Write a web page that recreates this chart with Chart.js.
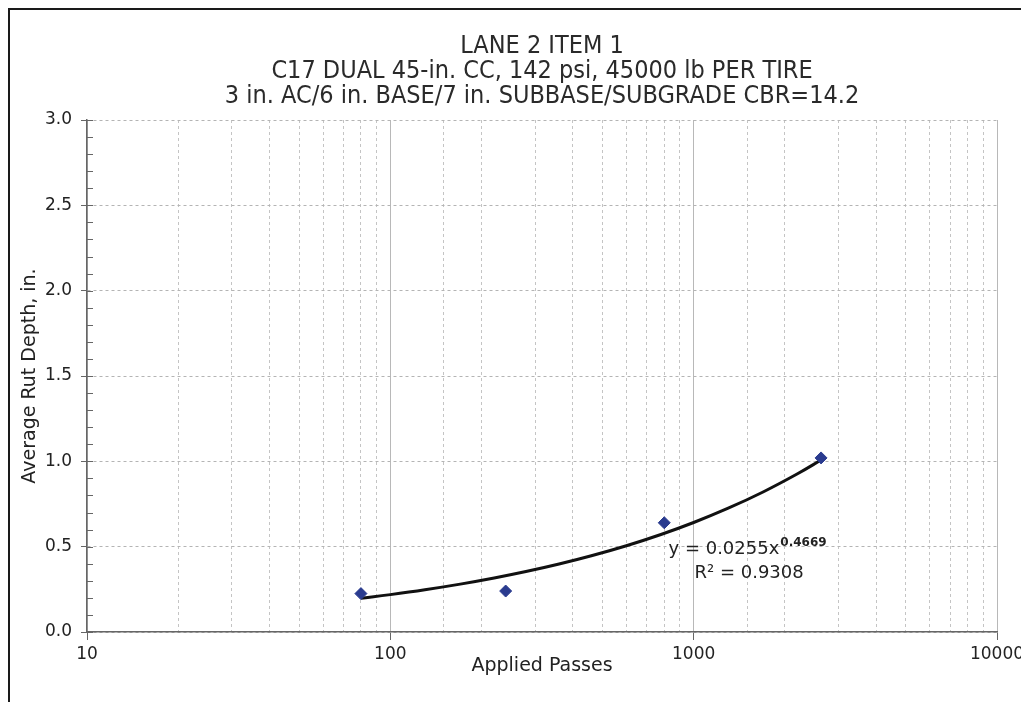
<!DOCTYPE html>
<html lang="en">
<head>
  <meta charset="UTF-8">
  <title>Lane 2 Item 1 - Rut Depth</title>
  <!-- Chart.js -->
  <script src="https://cdn.jsdelivr.net/npm/chart.js"></script>
  <style>
    body { margin: 0; background: #fff; }
    #wrap { position: relative; width: 1021px; height: 702px; }
    .frame-top { position: absolute; left: 8px; top: 8px; width: 1013px; height: 2px; background: #1a1a1a; }
    .frame-left { position: absolute; left: 8px; top: 8px; width: 2px; height: 694px; background: #1a1a1a; }
  </style>
</head>

<body>
  <div id="wrap">
    <canvas id="rutChart" width="1021" height="702"></canvas>
    <div class="frame-top"></div>
    <div class="frame-left"></div>
  </div>

  <script>
    // measured points
    const passes = [80, 240, 800, 2630];
    const rutDepth = [0.225, 0.24, 0.64, 1.02];

    // power trendline shown on the chart: y = a * x^b
    const trendCoef = [0.0255, 0.4669];
    const trendR2 = 0.9308;
    const trendPasses = [80, 100, 130, 170, 220, 280, 360, 460, 600, 780, 1000, 1300, 1700, 2200, 2630];

    const titleLines = [
      'LANE 2 ITEM 1',
      'C17 DUAL 45-in. CC, 142 psi, 45000 lb PER TIRE',
      '3 in. AC/6 in. BASE/7 in. SUBBASE/SUBGRADE CBR=14.2'
    ];
    const xTickLabels = [10, 100, 1000, 10000];
    const yMinorStep = 0.1;

    const trendData = trendPasses.map(x => ({ x: x, y: trendCoef[0] * Math.pow(x, trendCoef[1]) }));
    const isDecade = v => xTickLabels.includes(Math.round(v));

    // small inside tick marks on y axis + equation label
    const extras = {
      id: 'extras',
      afterDraw(chart) {
        const ctx = chart.ctx;
        const xs = chart.scales.x, ys = chart.scales.y;
        ctx.save();
        ctx.strokeStyle = '#666';
        ctx.lineWidth = 1;
        for (let v = 0; v <= 3.0001; v += yMinorStep) {
          const py = Math.round(ys.getPixelForValue(v)) + 0.5;
          ctx.beginPath();
          ctx.moveTo(xs.left, py);
          ctx.lineTo(xs.left + 6, py);
          ctx.stroke();
        }

        // trendline equation
        const cx = xs.getPixelForValue(1500);
        const cy = ys.getPixelForValue(0.5) + 3;
        ctx.fillStyle = '#222';
        ctx.textBaseline = 'middle';
        const base = 'y = ' + trendCoef[0] + 'x';
        const sup = String(trendCoef[1]);
        ctx.font = '18px "DejaVu Sans"';
        const wb = ctx.measureText(base).width;
        ctx.font = 'bold 12px "DejaVu Sans"';
        const ws = ctx.measureText(sup).width;
        const x0 = cx - (wb + ws) / 2;
        ctx.font = '18px "DejaVu Sans"';
        ctx.textAlign = 'left';
        ctx.fillText(base, x0, cy);
        ctx.font = 'bold 12px "DejaVu Sans"';
        ctx.fillText(sup, x0 + wb + 1, cy - 7);
        ctx.font = '18px "DejaVu Sans"';
        ctx.textAlign = 'center';
        ctx.fillText('R\u00b2 = ' + trendR2, cx + 2, cy + 24);
        ctx.restore();
      }
    };

    new Chart(document.getElementById('rutChart'), {
      type: 'scatter',
      data: {
        datasets: [
          {
            label: 'Rut depth',
            data: passes.map((p, i) => ({ x: p, y: rutDepth[i] })),
            pointStyle: 'rectRot',
            pointRadius: 6,
            pointHoverRadius: 6,
            backgroundColor: '#2a3b8f',
            borderColor: '#2a3b8f',
            borderWidth: 1,
            order: 1
          },
          {
            label: 'Power trend',
            type: 'line',
            data: trendData,
            borderColor: '#111',
            borderWidth: 3,
            pointRadius: 0,
            tension: 0.4,
            fill: false,
            order: 2
          }
        ]
      },
      options: {
        responsive: false,
        animation: false,
        layout: { padding: { left: 0, right: 24, top: 0, bottom: 0 } },
        plugins: {
          legend: { display: false },
          tooltip: { enabled: false },
          title: {
            display: true,
            fullSize: false,
            text: titleLines,
            color: '#2a2a2a',
            font: { family: '"Liberation Sans Narrow", "DejaVu Sans Condensed", sans-serif', size: 25, weight: 'normal', lineHeight: 25 / 25 },
            padding: { top: 34, bottom: 11 }
          }
        },
        scales: {
          x: {
            type: 'logarithmic',
            min: 10,
            max: 10000,
            title: {
              display: true,
              text: 'Applied Passes',
              color: '#222',
              font: { family: '"DejaVu Sans"', size: 19 },
              padding: { top: 0, bottom: 25 }
            },
            ticks: {
              autoSkip: false,
              maxRotation: 0,
              padding: 4,
              color: '#222',
              font: { family: '"DejaVu Sans"', size: 17 },
              callback: v => isDecade(v) ? String(Math.round(v)) : ''
            },
            grid: {
              color: c => (c.tick && isDecade(c.tick.value)) ? '#b8b8b8' : '#c4c4c4',
              lineWidth: 1,
              tickLength: 8,
              tickColor: c => (c.tick && isDecade(c.tick.value)) ? '#666' : 'rgba(0,0,0,0)'
            },
            border: {
              display: true,
              color: '#666',
              width: 1.5,
              dash: c => (c.tick && isDecade(c.tick.value)) ? [] : [3, 3]
            },
            afterFit: s => { s.height = 70; s.paddingLeft = 0; s.paddingRight = 0; }
          },
          y: {
            min: 0,
            max: 3,
            title: {
              display: true,
              text: 'Average Rut Depth, in.',
              color: '#222',
              font: { family: '"DejaVu Sans"', size: 19 },
              padding: { top: 19, bottom: 0 }
            },
            ticks: {
              stepSize: 0.5,
              padding: 9,
              color: '#222',
              font: { family: '"DejaVu Sans"', size: 17 },
              callback: v => Number(v).toFixed(1)
            },
            grid: {
              color: '#b4b4b4',
              lineWidth: 1,
              tickLength: 6,
              tickColor: '#666'
            },
            border: {
              display: true,
              color: '#666',
              width: 1.5,
              dash: [3, 3]
            },
            afterFit: s => { s.width = 87; s.paddingTop = 0; s.paddingBottom = 0; }
          }
        }
      },
      plugins: [extras]
    });
  </script>
</body>
</html>
